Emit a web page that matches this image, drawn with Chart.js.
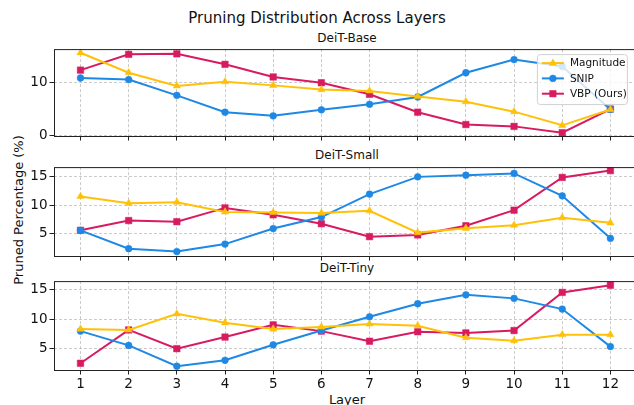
<!DOCTYPE html>
<html>
<head>
<meta charset="utf-8">
<script src="https://cdn.jsdelivr.net/npm/chart.js@4.4.1/dist/chart.umd.min.js"></script>
<style>
  html, body { margin: 0; padding: 0; background: #fff; }
  body { width: 634px; height: 405px; overflow: hidden; position: relative; font-family: 'DejaVu Sans', sans-serif; color: #111; }
  canvas { position: absolute; left: 0; }
  .txt { position: absolute; white-space: nowrap; transform: translate(-50%, -50%); line-height: 1; }
</style>
</head>
<body>
<div class="txt" style="left:317px; top:18px; font-size:15px;">Pruning Distribution Across Layers</div>
<div class="txt" style="left:347px; top:38px; font-size:12px;">DeiT-Base</div>
<div class="txt" style="left:347px; top:155px; font-size:12px;">DeiT-Small</div>
<div class="txt" style="left:347px; top:268px; font-size:12px;">DeiT-Tiny</div>
<div class="txt" style="left:18px; top:210px; font-size:13px; transform: translate(-50%, -50%) rotate(-90deg);">Pruned Percentage (%)</div>
<div class="txt" style="left:347px; top:399px; font-size:13px;">Layer</div>

<canvas id="baseChart" width="642" height="98" style="top:44px"></canvas>
<canvas id="smallChart" width="642" height="100" style="top:162px"></canvas>
<canvas id="tinyChart" width="642" height="116" style="top:276px"></canvas>

<script>
// Layers on the x axis
const layers = [1, 2, 3, 4, 5, 6, 7, 8, 9, 10, 11, 12];

// DeiT-Base
const baseMagnitude = [15.7, 11.9, 9.4, 10.2, 9.5, 8.7, 8.45, 7.4, 6.4, 4.5, 1.9, 4.9];
const baseSnip = [10.9, 10.6, 7.6, 4.4, 3.7, 4.85, 5.9, 7.3, 11.9, 14.4, 13.1, 4.9];
const baseVbp = [12.4, 15.4, 15.5, 13.5, 11.1, 10.0, 7.8, 4.4, 2.05, 1.7, 0.5, 5.0];

// DeiT-Small
const smallMagnitude = [11.5, 10.3, 10.5, 8.8, 8.7, 8.6, 9.0, 5.2, 5.95, 6.5, 7.8, 6.9];
const smallSnip = [5.6, 2.4, 1.9, 3.2, 5.9, 7.9, 11.9, 14.9, 15.2, 15.5, 11.6, 4.2];
const smallVbp = [5.6, 7.3, 7.1, 9.5, 8.3, 6.75, 4.5, 4.8, 6.4, 9.1, 14.8, 16.0];

// DeiT-Tiny
const tinyMagnitude = [8.35, 8.2, 10.9, 9.4, 8.35, 8.7, 9.2, 8.9, 6.9, 6.4, 7.4, 7.4];
const tinySnip = [8.0, 5.6, 2.1, 3.1, 5.7, 8.1, 10.4, 12.6, 14.1, 13.5, 11.7, 5.4];
const tinyVbp = [2.6, 8.2, 5.05, 7.0, 9.05, 8.0, 6.3, 7.9, 7.7, 8.1, 14.5, 15.7];

// Tick labels
const baseTicks = [0, 10];
const smallTicks = [5, 10, 15];
const tinyTicks = [5, 10, 15];

const seriesNames = ['Magnitude', 'SNIP', 'VBP (Ours)'];
const COLORS = ['#FFC107', '#1E88E5', '#D81B60'];
const STYLES = ['triangle', 'circle', 'rect'];
const RADII = [4.2, 3.4, 4.6];
const FONT = "'DejaVu Sans', sans-serif";

function toPoints(values) {
  return layers.map((l, i) => ({ x: l, y: values[i] }));
}

function makeDatasets(series) {
  return series.map((values, i) => ({
    label: seriesNames[i],
    data: toPoints(values),
    borderColor: COLORS[i],
    backgroundColor: COLORS[i],
    borderWidth: 2,
    pointStyle: STYLES[i],
    pointRadius: RADII[i],
    pointBorderWidth: 0.5,
    pointHoverRadius: RADII[i],
    tension: 0,
  }));
}

// Draws all four spines around the plot area
const framePlugin = {
  id: 'frame',
  afterDraw(chart) {
    const { ctx, chartArea: a } = chart;
    ctx.save();
    ctx.strokeStyle = '#222';
    ctx.lineWidth = 1;
    ctx.strokeRect(a.left + 0.5, a.top + 0.5, a.right - a.left, a.bottom - a.top);
    ctx.restore();
  },
};

// Matplotlib-like legend box inside the upper right corner
const boxLegendPlugin = {
  id: 'boxLegend',
  afterDraw(chart) {
    const { ctx, chartArea: a } = chart;
    const x0 = a.right - 100, y0 = a.top + 5, w = 90, h = 50;
    ctx.save();
    ctx.beginPath();
    ctx.roundRect(x0 + 0.5, y0 + 0.5, w, h, 3);
    ctx.fillStyle = 'rgba(255,255,255,0.8)';
    ctx.fill();
    ctx.strokeStyle = '#d0d0d0';
    ctx.lineWidth = 1;
    ctx.stroke();
    ctx.font = '10.5px ' + FONT;
    ctx.textBaseline = 'middle';
    chart.data.datasets.forEach((ds, i) => {
      const yy = y0 + 9 + i * 15.3;
      ctx.strokeStyle = ds.borderColor;
      ctx.lineWidth = 2;
      ctx.beginPath();
      ctx.moveTo(x0 + 5, yy);
      ctx.lineTo(x0 + 27, yy);
      ctx.stroke();
      ctx.fillStyle = ds.backgroundColor;
      ctx.lineWidth = 0.5;
      Chart.helpers.drawPoint(ctx, { pointStyle: ds.pointStyle, radius: ds.pointRadius, rotation: 0, borderWidth: 0.5 }, x0 + 16, yy);
      ctx.fillStyle = '#111';
      ctx.fillText(ds.label, x0 + 33, yy + 0.5);
    });
    ctx.restore();
  },
};

const gridOpts = {
  color: 'rgba(190,190,190,0.8)',
  drawTicks: true,
  tickLength: 4.5,
  tickColor: '#222',
  tickBorderDash: [],
  tickWidth: 1,
};

function buildChart(id, series, yMin, yMax, yTicks, showXLabels, withLegend) {
  const plugins = [framePlugin];
  if (withLegend) plugins.push(boxLegendPlugin);
  return new Chart(document.getElementById(id), {
    type: 'line',
    data: { datasets: makeDatasets(series) },
    plugins: plugins,
    options: {
      responsive: false,
      animation: false,
      devicePixelRatio: 1,
      layout: { padding: { top: 3, right: 2, left: 0, bottom: 0 } },
      plugins: {
        legend: { display: false },
        tooltip: { enabled: false },
        title: { display: false },
      },
      scales: {
        x: {
          type: 'linear',
          min: 0.45,
          max: 12.55,
          afterBuildTicks: (scale) => {
            scale.ticks = layers.map((v) => ({ value: v }));
          },
          afterFit: (scale) => {
            scale.height = showXLabels ? 22 : 6;
            scale.paddingLeft = 0;
            scale.paddingRight = 0;
          },
          grid: gridOpts,
          border: { display: false, dash: [3, 2] },
          ticks: {
            display: showXLabels,
            color: '#111',
            padding: 2,
            maxRotation: 0,
            autoSkip: false,
            font: { family: FONT, size: 13.5 },
            callback: (v) => String(v),
          },
        },
        y: {
          min: yMin,
          max: yMax,
          afterBuildTicks: (scale) => {
            scale.ticks = yTicks.map((v) => ({ value: v }));
          },
          afterFit: (scale) => {
            scale.width = 54;
            scale.paddingTop = 0;
            scale.paddingBottom = 0;
          },
          grid: gridOpts,
          border: { display: false, dash: [3, 2] },
          ticks: {
            color: '#111',
            padding: 2,
            font: { family: FONT, size: 13.5 },
            callback: (v) => String(v),
          },
        },
      },
    },
  });
}

buildChart('baseChart', [baseMagnitude, baseSnip, baseVbp], -0.13, 16.4, baseTicks, false, true);
buildChart('smallChart', [smallMagnitude, smallSnip, smallVbp], 1.13, 16.6, smallTicks, false, false);
buildChart('tinyChart', [tinyMagnitude, tinySnip, tinyVbp], 1.47, 16.4, tinyTicks, true, false);
</script>
</body>
</html>
